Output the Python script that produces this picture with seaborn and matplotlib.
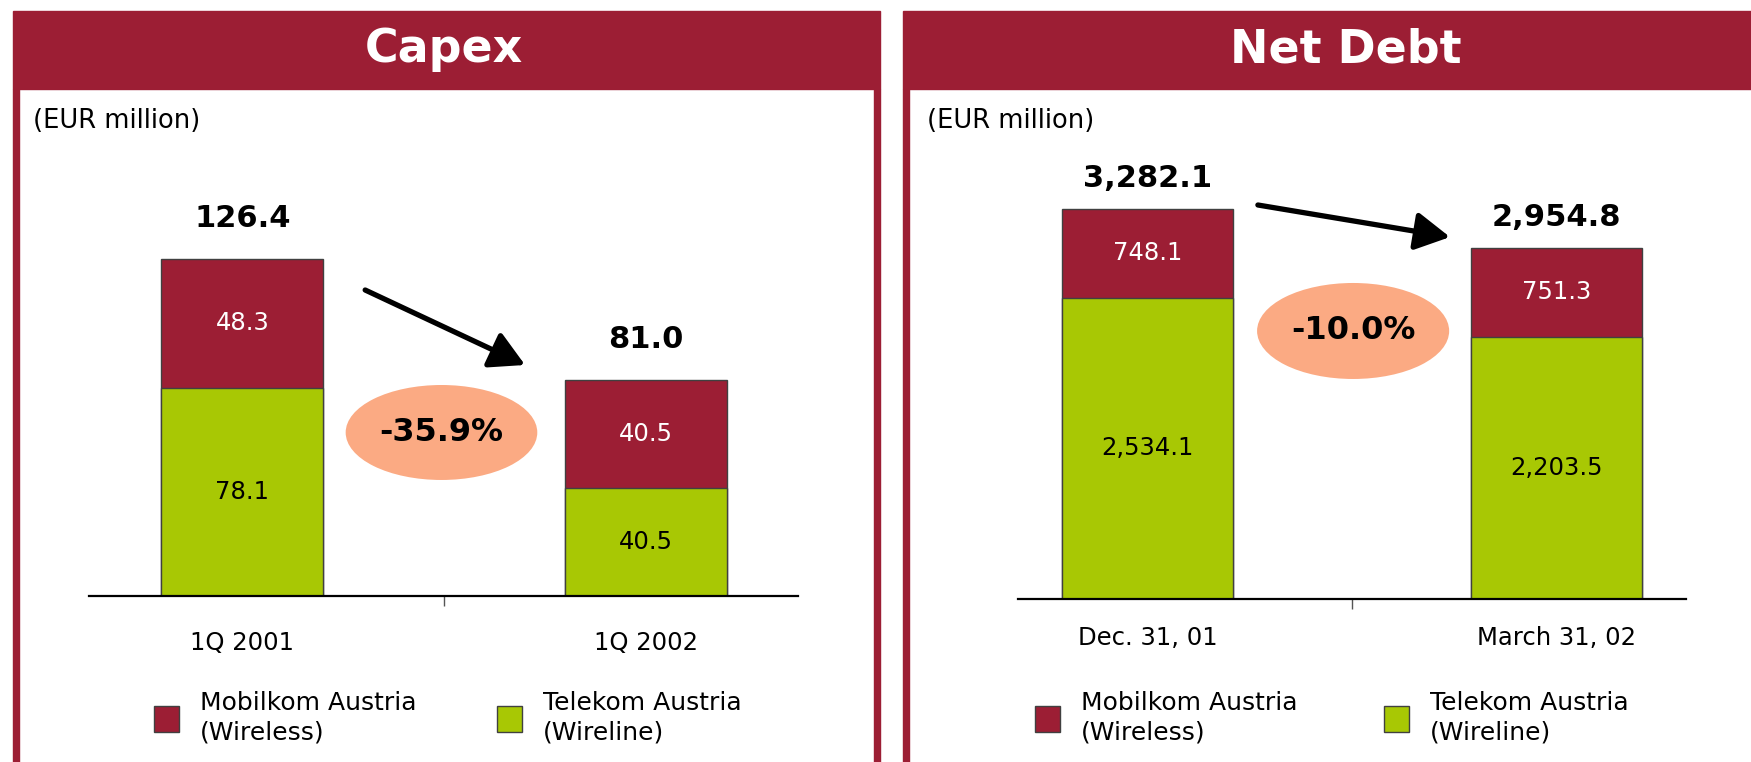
import numpy as np
import pandas as pd
import seaborn as sns
from matplotlib import pyplot as plt
from matplotlib.patches import Rectangle, Ellipse, Patch

# data
capex_cats = ["1Q 2001", "1Q 2002"]
capex_wireless = [48.3, 40.5]
capex_wireline = [78.1, 40.5]
capex_totals = [126.4, 81.0]
capex_change = "-35.9%"

debt_cats = ["Dec. 31, 01", "March 31, 02"]
debt_wireless = [748.1, 751.3]
debt_wireline = [2534.1, 2203.5]
debt_totals = [3282.1, 2954.8]
debt_change = "-10.0%"

series_labels = ["Mobilkom Austria\n(Wireless)", "Telekom Austria\n(Wireline)"]

RED = "#9C1E34"
GREEN = "#A8C804"
SALMON = "#FBAA83"

sns.set_theme(style="white")
plt.rcParams["font.family"] = ["DejaVu Sans"]
plt.rcParams["text.color"] = "black"
plt.rcParams["xtick.color"] = "black"

W, H = 1751, 762
fig = plt.figure(figsize=(W / 100, H / 100), dpi=100)


def fx(px):
    return px / W


def fy(py):
    return 1 - py / H


def add_rect(x0, y0, x1, y1, color):
    fig.patches.append(Rectangle((fx(x0), fy(y1)), fx(x1) - fx(x0), fy(y0) - fy(y1),
                                 transform=fig.transFigure, color=color, zorder=0))


# panel frames
add_rect(13, 11, 880, 89, RED)
add_rect(13, 89, 19, 762, RED)
add_rect(874, 89, 880, 762, RED)
add_rect(903, 11, 1751, 89, RED)
add_rect(903, 89, 909, 762, RED)

fig.text(fx(444), fy(50), "Capex", color="white", fontsize=33, fontweight="bold", ha="center", va="center")
fig.text(fx(1346), fy(50), "Net Debt", color="white", fontsize=33, fontweight="bold", ha="center", va="center")
fig.text(fx(33), fy(121), "(EUR million)", fontsize=18.5, ha="left", va="center")
fig.text(fx(927), fy(121), "(EUR million)", fontsize=18.5, ha="left", va="center")


def panel(left, right, bottom, top, ymax, xlim, cats, wireless, wireline, totals, width,
          tot_off, pad, ell, arrow, change, leg_x, colsp):
    ax = fig.add_axes([fx(left), fy(bottom), fx(right) - fx(left), fy(top) - fy(bottom)])
    ax.patch.set_alpha(0)
    df = pd.DataFrame({"cat": cats, "total": totals, "wireline": wireline, "wireless": wireless})
    sns.barplot(data=df, x="cat", y="total", color=RED, saturation=1, width=width,
                edgecolor="#404040", linewidth=1, errorbar=None, ax=ax)
    sns.barplot(data=df, x="cat", y="wireline", color=GREEN, saturation=1, width=width,
                edgecolor="#404040", linewidth=1, errorbar=None, ax=ax)
    ax.set_xlim(*xlim)
    ax.set_ylim(0, ymax)
    ax.set_xlabel("")
    ax.set_ylabel("")
    ax.set_yticks([])
    for s in ["left", "right", "top"]:
        ax.spines[s].set_visible(False)
    ax.spines["bottom"].set_color("black")
    ax.spines["bottom"].set_linewidth(1.6)
    ax.tick_params(axis="x", which="major", length=0, pad=pad, labelsize=17.5, colors="black")
    ax.set_xticks([0.5], minor=True)
    ax.tick_params(axis="x", which="minor", length=7, width=1, color="#555555", bottom=True)

    for i in range(len(cats)):
        ax.annotate(f"{totals[i]:,.1f}", (i, totals[i]), xytext=(0, tot_off), textcoords="offset points",
                    ha="center", va="center", fontsize=22, fontweight="bold", color="black")
        ax.text(i, wireline[i] / 2, f"{wireline[i]:,.1f}", ha="center", va="center", fontsize=17.5, color="black")
        ax.text(i, wireline[i] + wireless[i] / 2, f"{wireless[i]:,.1f}", ha="center", va="center",
                fontsize=17.5, color="white")

    cx, cy, ew, eh = ell
    ax.add_patch(Ellipse((cx, cy), ew, eh, facecolor=SALMON, edgecolor="none", zorder=3))
    ax.text(cx, cy, change, ha="center", va="center", fontsize=23, fontweight="bold", zorder=4, color="black")
    ax.annotate("", xy=arrow[1], xytext=arrow[0],
                arrowprops=dict(arrowstyle="-|>,head_length=1.0,head_width=0.55", mutation_scale=21,
                                lw=3.8, color="black", shrinkA=0, shrinkB=0), zorder=4)

    handles = [Patch(facecolor=RED, edgecolor="#404040"), Patch(facecolor=GREEN, edgecolor="#404040")]
    leg = ax.legend(handles, series_labels, ncol=2, frameon=False, fontsize=18,
                    loc="center left", bbox_to_anchor=(fx(leg_x), fy(718)), bbox_transform=fig.transFigure,
                    handlelength=1.0, handleheight=1.25, handletextpad=0.85, columnspacing=colsp,
                    borderpad=0, borderaxespad=0, labelspacing=0.3)
    for t in leg.get_texts():
        t.set_linespacing(1.3)
        t.set_color("black")
    return ax


panel(89, 798, 596.3, 150, (596.3 - 150) / 2.668, (-0.38, 1.376),
      capex_cats, capex_wireless, capex_wireline, capex_totals, 0.401,
      29, 25, (0.493, 61.4, 0.4746, 35.6), ((0.304, 114.8), (0.700, 86.7)), capex_change, 154, 3.2)

panel(1018.4, 1686.2, 598.5, 150, (598.5 - 150) / 0.11874, (-0.316, 1.318),
      debt_cats, debt_wireless, debt_wireline, debt_totals, 0.418,
      22, 20, (0.503, 2253, 0.47, 808.5), ((0.270, 3314), (0.740, 3044)), debt_change, 1035, 3.45)

fig.savefig("out.png", dpi=100)
